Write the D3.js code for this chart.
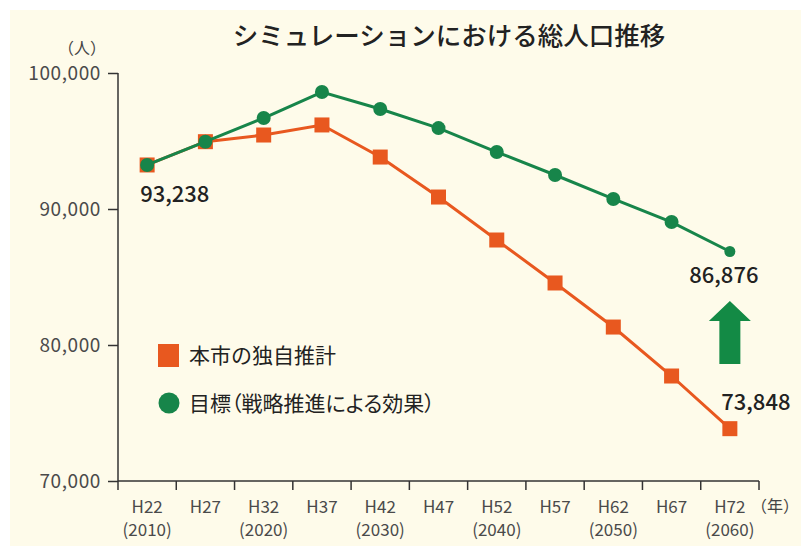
<!DOCTYPE html>
<html><head><meta charset="utf-8">
<script src="https://cdn.jsdelivr.net/npm/d3@7"></script>
<style>
html,body{margin:0;padding:0;background:#fff;}
svg{display:block;}
text{font-family:"Noto Sans CJK JP","Noto Sans",sans-serif;}
.palt{font-feature-settings:"palt";}
</style></head>
<body>
<script>
const categories = ["H22","H27","H32","H37","H42","H47","H52","H57","H62","H67","H72"];
const yearLabels = ["(2010)","","(2020)","","(2030)","","(2040)","","(2050)","","(2060)"];
const ownEstimate = [93238,94950,95440,96180,93820,90880,87720,84560,81320,77720,73848];
const target = [93238,94950,96690,98600,97350,95950,94190,92500,90740,89040,86876];
const yTicks = [70000,80000,90000,100000];
const title = "シミュレーションにおける総人口推移";
const legendNames = ["本市の独自推計","目標（戦略推進による効果）"];

const W = 801, H = 546;
const green = "#17854a", orange = "#e8581f", bg = "#fefbea", axisC = "#333";
const svg = d3.select("body").append("svg").attr("width", W).attr("height", H);
svg.append("rect").attr("x",10).attr("y",10).attr("width",W-10).attr("height",H-10).attr("fill",bg);

const x = d3.scaleBand().domain(categories).range([118,759]).padding(0);
const y = d3.scaleLinear().domain([70000,100000]).range([481,73]);
const cx = d => x(d) + x.bandwidth()/2;

svg.append("text").attr("x",449).attr("y",45).attr("text-anchor","middle")
  .attr("font-size",25.5).attr("font-weight",500).attr("fill","#222").text(title);

// y axis
const yAx = svg.append("g").attr("transform","translate(118,0)")
  .call(d3.axisLeft(y).tickValues(yTicks).tickSize(10).tickPadding(7).tickFormat(d3.format(",")));
yAx.select(".domain").attr("stroke",axisC).attr("stroke-width",1.5).attr("d","M0,73V481");
yAx.selectAll(".tick line").attr("stroke",axisC).attr("stroke-width",1.5);
yAx.selectAll(".tick text").attr("font-size",19).attr("fill","#4a4a4a")
  .attr("letter-spacing",0.6)
  .attr("font-family","'Open Sans','Noto Sans',sans-serif");
svg.append("text").attr("x",82).attr("y",54).attr("text-anchor","middle")
  .attr("font-size",16).attr("fill","#444").text("（人）");

// x axis
const xAx = svg.append("g").attr("transform","translate(0,481)")
  .call(d3.axisBottom(x).tickSize(0).tickPadding(0).tickFormat(""));
xAx.select(".domain").attr("stroke",axisC).attr("stroke-width",1.5).attr("d","M118,0H759");
const bounds = categories.map(c => x(c)).concat([x.range()[1]]);
xAx.selectAll(".bnd").data(bounds).join("line").attr("class","bnd")
  .attr("x1",d=>d).attr("x2",d=>d).attr("y1",0).attr("y2",9)
  .attr("stroke",axisC).attr("stroke-width",1.5);
const xl = svg.append("g").attr("font-size",17).attr("fill","#4a4a4a")
  .attr("font-family","'Open Sans','Noto Sans',sans-serif").attr("text-anchor","middle");
xl.selectAll(".c").data(categories).join("text").attr("class","c")
  .attr("x",d=>cx(d)).attr("y",513).text(d=>d);
xl.selectAll(".yr").data(categories).join("text").attr("class","yr")
  .attr("x",d=>cx(d)).attr("y",536).text((d,i)=>yearLabels[i]);
svg.append("text").attr("x",775).attr("y",512).attr("text-anchor","middle")
  .attr("font-size",16).attr("fill","#444").text("（年）");

// lines
const line = d3.line().x((d,i)=>cx(categories[i])).y(d=>y(d));
svg.append("path").datum(ownEstimate).attr("d",line).attr("fill","none")
  .attr("stroke",orange).attr("stroke-width",3);
svg.selectAll(".sq").data(ownEstimate).join("rect").attr("class","sq")
  .attr("x",(d,i)=>cx(categories[i])-7.5).attr("y",d=>y(d)-7.5)
  .attr("width",15).attr("height",15).attr("fill",orange);
svg.append("path").datum(target).attr("d",line).attr("fill","none")
  .attr("stroke",green).attr("stroke-width",3);
svg.selectAll(".ci").data(target).join("circle").attr("class","ci")
  .attr("cx",(d,i)=>cx(categories[i])).attr("cy",d=>y(d))
  .attr("r",(d,i)=>i===target.length-1?5.5:7).attr("fill",green);

// value labels
const fmt = d3.format(",");
const vl = svg.append("g").attr("font-size",22).attr("font-weight",500).attr("fill","#222")
  .attr("font-family","'Open Sans','Noto Sans',sans-serif");
vl.append("text").attr("x",cx(categories[0])-7).attr("y",y(ownEstimate[0])+37).text(fmt(ownEstimate[0]));
vl.append("text").attr("x",cx(categories[10])-6).attr("y",y(target[10])+32)
  .attr("text-anchor","middle").text(fmt(target[10]));
vl.append("text").attr("x",cx(categories[10])+26).attr("y",y(ownEstimate[10])-19)
  .attr("text-anchor","middle").text(fmt(ownEstimate[10]));

// arrow
const ax = cx(categories[10]);
svg.append("path").attr("fill","#138a45")
  .attr("d",`M${ax-21},321 L${ax},301 L${ax+21},321 L${ax+10.5},321 L${ax+10.5},364 L${ax-10.5},364 L${ax-10.5},321 Z`);

// legend
const lg = svg.append("g");
lg.append("rect").attr("x",158).attr("y",344).attr("width",21).attr("height",23).attr("fill",orange);
lg.append("text").attr("x",189).attr("y",363).attr("font-size",21).attr("fill","#222").text(legendNames[0]);
lg.append("circle").attr("cx",169).attr("cy",403).attr("r",10.5).attr("fill",green);
lg.append("text").attr("class","palt").attr("x",189).attr("y",411).attr("font-size",21).attr("fill","#222").text(legendNames[1]);
</script>
</body></html>
